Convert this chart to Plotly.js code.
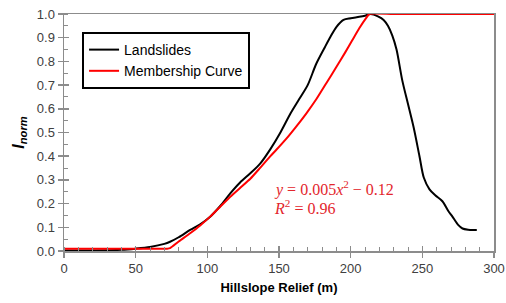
<!DOCTYPE html>
<html>
<head>
<meta charset="utf-8">
<script src="https://cdn.plot.ly/plotly-3.0.1.min.js"></script>
<style>html,body{margin:0;padding:0;background:#fff;}#chart{width:506px;height:303px;}</style>
</head>
<body>
<div id="chart"></div>
<script>
// Landslides curve
const landX = [0, 20, 40, 50, 60, 70, 74, 80, 88, 95, 102, 109, 116, 123, 130, 137, 144, 151, 158, 164, 170, 176, 182, 186, 190, 195, 200, 206, 210, 214, 219, 223, 226, 229, 232, 236, 240, 244, 248, 251, 255, 259, 264, 268, 271, 275, 278, 282, 286, 288];
const landY = [0.002, 0.002, 0.005, 0.01, 0.017, 0.03, 0.039, 0.058, 0.089, 0.113, 0.145, 0.19, 0.243, 0.29, 0.328, 0.37, 0.43, 0.5, 0.58, 0.64, 0.70, 0.79, 0.86, 0.905, 0.945, 0.975, 0.982, 0.988, 0.993, 1.0, 0.99, 0.975, 0.95, 0.91, 0.85, 0.72, 0.62, 0.52, 0.40, 0.31, 0.26, 0.235, 0.21, 0.17, 0.145, 0.11, 0.095, 0.09, 0.089, 0.089];
// Membership curve
const memX = [0, 72, 74, 80, 88, 95, 102, 109, 116, 123, 130, 137, 144, 148, 155, 162, 169, 176, 183, 190, 196, 201, 206, 211, 213, 230, 300];
const memY = [0.01, 0.01, 0.012, 0.04, 0.075, 0.108, 0.145, 0.187, 0.229, 0.267, 0.305, 0.352, 0.40, 0.426, 0.473, 0.525, 0.58, 0.64, 0.708, 0.776, 0.836, 0.888, 0.94, 0.985, 1.0, 1.0, 1.0];
// Labels
const seriesNames = ["Landslides", "Membership Curve"];
const xTitle = "<b>Hillslope Relief (m)</b>";
const yTitle = "<b><i>I</i><sub><i>norm</i></sub></b>";
const eqLine1 = "<i>y</i> = 0.005<i>x</i><sup>2</sup> − 0.12";
const eqLine2 = "<i>R</i><sup>2</sup> = 0.96";

const axColor = "#8c8c8c";
const traces = [
  {x: landX, y: landY, name: seriesNames[0], mode: "lines", line: {color: "#000", width: 2, shape: "spline", smoothing: 0.8}},
  {x: memX, y: memY, name: seriesNames[1], mode: "lines", line: {color: "#ff0000", width: 2, shape: "spline", smoothing: 0.5}},
  {x: [null], y: [null], xaxis: "x2", yaxis: "y2", showlegend: false, hoverinfo: "skip", mode: "lines"}
];
const layout = {
  width: 506, height: 303,
  margin: {l: 64, r: 12, t: 14, b: 52},
  paper_bgcolor: "#fff", plot_bgcolor: "#fff",
  font: {family: "Liberation Sans, Arial, sans-serif", size: 13, color: "#404040"},
  showlegend: true,
  legend: {x: 0.042, y: 0.924, xanchor: "left", yanchor: "top", bordercolor: "#000", borderwidth: 2,
           bgcolor: "#fff", font: {size: 14, color: "#000"}, tracegroupgap: 0},
  xaxis: {range: [0, 300], dtick: 50, tick0: 0, showline: true, linecolor: axColor, linewidth: 1.5, mirror: true,
          ticks: "outside", ticklen: 5, tickcolor: axColor, tickwidth: 1.5, showgrid: false, zeroline: false,
          minor: {dtick: 10, ticks: "inside", ticklen: 4, tickcolor: axColor, tickwidth: 1, showgrid: false},
          tickfont: {size: 13, color: "#404040"},
          title: {text: xTitle, font: {size: 13, color: "#000"}, standoff: 8}},
  yaxis: {range: [0, 1], dtick: 0.1, tick0: 0, tickformat: ".1f", showline: true, linecolor: axColor, linewidth: 1.5, mirror: true,
          ticks: "outside", ticklen: 5, tickcolor: axColor, tickwidth: 1.5, showgrid: false, zeroline: false,
          minor: {dtick: 0.05, ticks: "inside", ticklen: 4, tickcolor: axColor, tickwidth: 1, showgrid: false},
          tickfont: {size: 13, color: "#404040"},
          title: {text: yTitle, font: {size: 16, color: "#000"}, standoff: 8}},
  xaxis2: {overlaying: "x", anchor: "y2", side: "bottom", range: [0, 300], dtick: 50, tick0: 0, ticks: "inside", ticklen: 5,
           tickcolor: axColor, tickwidth: 1.5, showticklabels: false, showline: false, showgrid: false, zeroline: false},
  yaxis2: {overlaying: "y", anchor: "x2", side: "left", range: [0, 1], dtick: 0.1, tick0: 0, ticks: "inside", ticklen: 5,
           tickcolor: axColor, tickwidth: 1.5, showticklabels: false, showline: false, showgrid: false, zeroline: false},
  annotations: [
    {xref: "paper", yref: "paper", x: 0.484, y: 0.262, xanchor: "left", yanchor: "middle", showarrow: false,
     text: eqLine1, font: {family: "Liberation Serif, DejaVu Serif, serif", size: 16, color: "#e3262d"}},
    {xref: "paper", yref: "paper", x: 0.484, y: 0.186, xanchor: "left", yanchor: "middle", showarrow: false,
     text: eqLine2, font: {family: "Liberation Serif, DejaVu Serif, serif", size: 16, color: "#e3262d"}}
  ]
};
Plotly.newPlot("chart", traces, layout, {displayModeBar: false, staticPlot: true});
</script>
</body>
</html>
